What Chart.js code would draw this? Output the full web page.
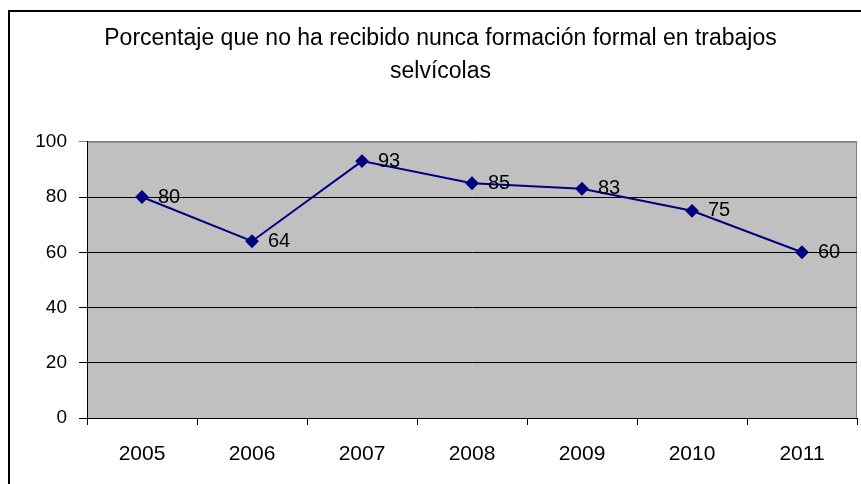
<!DOCTYPE html>
<html>
<head>
<meta charset="utf-8">
<script src="https://cdn.jsdelivr.net/npm/chart.js@4.4.0/dist/chart.umd.min.js"></script>
<style>
  html, body { margin: 0; padding: 0; background: #fff; }
  #wrap { width: 861px; height: 484px; }
</style>
</head>
<body>
<div id="wrap"><canvas id="chart" width="861" height="484"></canvas></div>
<script>
// datos
const years = ["2005", "2006", "2007", "2008", "2009", "2010", "2011"];
const percentages = [80, 64, 93, 85, 83, 75, 60];
const yTicks = [0, 20, 40, 60, 80, 100];
const titleLines = [
  "Porcentaje que no ha recibido nunca formación formal en trabajos",
  "selvícolas"
];

const fontName = "'Liberation Sans', Arial, sans-serif";

// marco exterior y fondo gris del area de trazado
const frame = {
  id: "frame",
  beforeDraw(chart) {
    const c = chart.ctx;
    const a = chart.chartArea;
    c.save();
    c.fillStyle = "#fff";
    c.fillRect(0, 0, chart.width, chart.height);
    c.strokeStyle = "#000";
    c.lineWidth = 2;
    c.strokeRect(9, 11, 900, 520);
    c.fillStyle = "#c0c0c0";
    c.fillRect(a.left, a.top, a.right - a.left, a.bottom - a.top);
    c.strokeStyle = "#808080";
    c.lineWidth = 1;
    c.beginPath();
    c.moveTo(a.left, a.top + 0.5);
    c.lineTo(a.right - 0.5, a.top + 0.5);
    c.lineTo(a.right - 0.5, a.bottom);
    c.stroke();
    c.restore();
  }
};

// etiquetas de valor a la derecha de cada punto
const valueLabels = {
  id: "valueLabels",
  afterDatasetsDraw(chart) {
    const c = chart.ctx;
    const meta = chart.getDatasetMeta(0);
    c.save();
    c.font = "20px " + fontName;
    c.fillStyle = "#000";
    c.textAlign = "left";
    c.textBaseline = "middle";
    meta.data.forEach((pt, i) => {
      c.fillText(String(percentages[i]), pt.x + 16, pt.y);
    });
    c.restore();
  }
};

new Chart(document.getElementById("chart"), {
  type: "line",
  data: {
    labels: years,
    datasets: [
      {
        data: percentages,
        borderColor: "#000080",
        backgroundColor: "#000080",
        borderWidth: 2,
        pointStyle: "rectRot",
        pointRadius: 5.5,
        pointHoverRadius: 5.5,
        tension: 0
      }
    ]
  },
  options: {
    responsive: false,
    animation: false,
    layout: { autoPadding: false, padding: { left: 24, right: 4, top: 0, bottom: 0 } },
    plugins: {
      legend: { display: false },
      tooltip: { enabled: false },
      title: {
        display: true,
        text: titleLines,
        color: "#000",
        font: { family: fontName, size: 23, weight: "normal", lineHeight: 1.43 },
        padding: { top: 22, bottom: 54 }
      }
    },
    scales: {
      x: {
        offset: true,
        afterFit(scale) {
          scale.height = 66;
          scale.paddingLeft = 0;
          scale.paddingRight = 0;
        },
        grid: {
          offset: true,
          drawOnChartArea: false,
          color: "#000",
          tickLength: 7
        },
        border: { color: "#000", width: 1 },
        ticks: {
          color: "#000",
          font: { family: fontName, size: 21 },
          padding: 17,
          maxRotation: 0
        }
      },
      y: {
        min: 0,
        max: 100,
        afterFit(scale) { scale.width = 63; },
        afterBuildTicks(scale) {
          scale.ticks = yTicks.map(v => ({ value: v }));
        },
        grid: {
          color: ctx => (ctx.tick && ctx.tick.value === 100 ? "#808080" : "#000"),
          tickLength: 8
        },
        border: { color: "#000", width: 1 },
        ticks: {
          color: "#000",
          font: { family: fontName, size: 19 },
          padding: 12
        }
      }
    }
  },
  plugins: [frame, valueLabels]
});
</script>
</body>
</html>
